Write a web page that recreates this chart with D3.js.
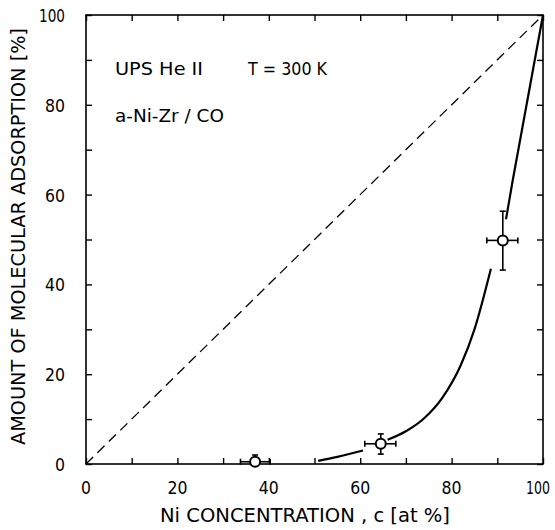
<!DOCTYPE html>
<html>
<head>
<meta charset="UTF-8">
<script src="https://d3js.org/d3.v7.min.js"></script>
<style>
  body { margin: 0; background: #fff; }
  text { font-family: "DejaVu Sans", sans-serif; fill: #000; }
</style>
</head>
<body>
<div id="chart"></div>
<script>
// data
var xTicks = [0, 20, 40, 60, 80, 100];
var yTicks = [0, 20, 40, 60, 80, 100];
var minorTicks = [10, 30, 50, 70, 90];

// measured points: concentration, adsorption, x error, y error (low/high)
var points = [
  {c: 37, a: 0.5, xlo: 33.8, xhi: 40.3, ylo: 0, yhi: 2},
  {c: 64.5, a: 4.5, xlo: 61, xhi: 67.8, ylo: 2.2, yhi: 6.7},
  {c: 91.2, a: 49.8, xlo: 87.7, xhi: 94.5, ylo: 43.2, yhi: 56.3}
];

// guide curve, drawn in three pieces (broken around the markers)
var curve1 = [[50.8, 0.7], [55, 1.6], [60.6, 3.0]];
var curve2 = [[66, 5.4], [70, 7.3], [74, 10.2], [78, 14.8], [82, 22], [85, 30], [88.6, 43.5]];
var curve3 = [[91.9, 54.5], [93.4, 63.3], [100, 100]];

// diagonal reference line
var diagonal = [[0, 0], [100, 100]];

var margin = {top: 15, right: 12, bottom: 66, left: 86},
    width = 555 - margin.left - margin.right,
    height = 530 - margin.top - margin.bottom;

var svg = d3.select("#chart")
  .append("svg")
    .attr("width", 555)
    .attr("height", 530)
  .append("g")
    .attr("transform", "translate(" + margin.left + "," + margin.top + ")");

var x = d3.scaleLinear().domain([0, 100]).range([0, width]);
var y = d3.scaleLinear().domain([0, 100]).range([height, 0]);

// narrow look: squeeze glyphs to the measured width
function narrow(sel, w) {
  sel.attr("textLength", w).attr("lengthAdjust", "spacingAndGlyphs");
}

// frame
svg.append("rect")
  .attr("width", width)
  .attr("height", height)
  .attr("fill", "none")
  .attr("stroke", "#000")
  .attr("stroke-width", 1.6);

// inward ticks on all four sides
var allTicks = xTicks.concat(minorTicks);
function tickAxis(axis, transform) {
  svg.append("g")
    .attr("transform", transform)
    .call(axis.tickValues(allTicks).tickSize(-6).tickFormat(""))
    .call(function(g) {
      g.select(".domain").remove();
      g.selectAll("line").attr("stroke", "#000").attr("stroke-width", 1.4);
    });
}
tickAxis(d3.axisBottom(x), "translate(0," + height + ")");
tickAxis(d3.axisTop(x), "translate(0,0)");
tickAxis(d3.axisLeft(y), "translate(0,0)");
tickAxis(d3.axisRight(y), "translate(" + width + ",0)");

// tick labels (the last one is pulled in so it stays inside the page)
svg.selectAll(".xlab")
  .data(xTicks)
  .enter().append("text")
    .attr("x", function(d) { return d === 100 ? x(d) + 7 : x(d); })
    .attr("y", height + 30)
    .attr("text-anchor", function(d) { return d === 100 ? "end" : "middle"; })
    .attr("textLength", function(d) { return d === 100 ? 24 : (d === 0 ? 10 : 20); })
    .attr("lengthAdjust", "spacingAndGlyphs")
    .style("font-size", "18px")
    .text(function(d) { return d; });

svg.selectAll(".ylab")
  .data(yTicks)
  .enter().append("text")
    .attr("x", -21)
    .attr("y", function(d) { return y(d) + 7; })
    .attr("text-anchor", "end")
    .attr("textLength", function(d) { return d === 100 ? 26 : (d === 0 ? 10 : 20); })
    .attr("lengthAdjust", "spacingAndGlyphs")
    .style("font-size", "18px")
    .text(function(d) { return d; });

// axis titles
svg.append("text")
  .attr("x", 74)
  .attr("y", height + 58)
  .call(narrow, 290)
  .style("font-size", "19px")
  .text("Ni CONCENTRATION , c [at %]");

svg.append("text")
  .attr("transform", "translate(-61," + (445 - margin.top) + ")rotate(-90)")
  .call(narrow, 417)
  .style("font-size", "19px")
  .text("AMOUNT OF MOLECULAR ADSORPTION [%]");

// annotations
svg.append("text").attr("x", 29).attr("y", 60)
  .call(narrow, 88)
  .style("font-size", "18px").text("UPS He II");
svg.append("text").attr("x", 162).attr("y", 60)
  .call(narrow, 79)
  .style("font-size", "18px").text("T = 300 K");
svg.append("text").attr("x", 29).attr("y", 107)
  .call(narrow, 109)
  .style("font-size", "18px").text("a-Ni-Zr / CO");

// dashed diagonal
var line = d3.line()
  .x(function(d) { return x(d[0]); })
  .y(function(d) { return y(d[1]); });

svg.append("path")
  .datum(diagonal)
  .attr("d", line)
  .attr("fill", "none")
  .attr("stroke", "#000")
  .attr("stroke-width", 1.3)
  .attr("stroke-dasharray", "10,6");

// guide curve
var smooth = d3.line()
  .x(function(d) { return x(d[0]); })
  .y(function(d) { return y(d[1]); })
  .curve(d3.curveMonotoneX);

[curve1, curve2, curve3].forEach(function(seg) {
  svg.append("path")
    .datum(seg)
    .attr("d", smooth)
    .attr("fill", "none")
    .attr("stroke", "#000")
    .attr("stroke-width", 2.2);
});

// error bars and markers
var pts = svg.selectAll(".pt")
  .data(points)
  .enter().append("g");

pts.append("line")
  .attr("x1", function(d) { return x(d.xlo); })
  .attr("x2", function(d) { return x(d.xhi); })
  .attr("y1", function(d) { return y(d.a); })
  .attr("y2", function(d) { return y(d.a); })
  .attr("stroke", "#000").attr("stroke-width", 1.6);

pts.append("line")
  .attr("x1", function(d) { return x(d.c); })
  .attr("x2", function(d) { return x(d.c); })
  .attr("y1", function(d) { return y(d.ylo); })
  .attr("y2", function(d) { return y(d.yhi); })
  .attr("stroke", "#000").attr("stroke-width", 1.6);

// caps
["xlo", "xhi"].forEach(function(k) {
  pts.append("line")
    .attr("x1", function(d) { return x(d[k]); })
    .attr("x2", function(d) { return x(d[k]); })
    .attr("y1", function(d) { return y(d.a) - 3; })
    .attr("y2", function(d) { return y(d.a) + 3; })
    .attr("stroke", "#000").attr("stroke-width", 1.6);
});
["ylo", "yhi"].forEach(function(k) {
  pts.append("line")
    .attr("x1", function(d) { return x(d.c) - 3; })
    .attr("x2", function(d) { return x(d.c) + 3; })
    .attr("y1", function(d) { return y(d[k]); })
    .attr("y2", function(d) { return y(d[k]); })
    .attr("stroke", "#000").attr("stroke-width", 1.6);
});

pts.append("circle")
  .attr("cx", function(d) { return x(d.c); })
  .attr("cy", function(d) { return y(d.a); })
  .attr("r", 5)
  .attr("fill", "#fff")
  .attr("stroke", "#000")
  .attr("stroke-width", 2);
</script>
</body>
</html>
